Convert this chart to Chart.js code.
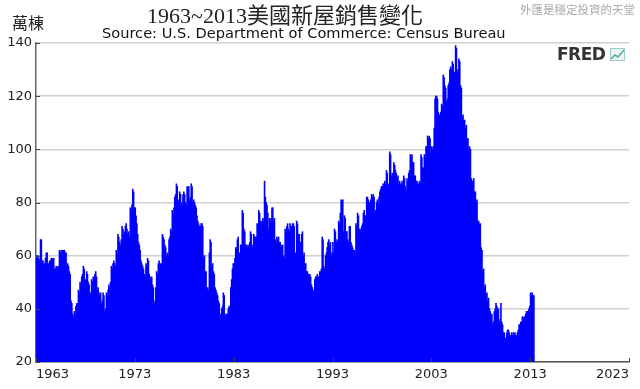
<!DOCTYPE html>
<html lang="zh-Hant">
<head>
  <meta charset="UTF-8">
  <title>1963~2013美國新屋銷售變化</title>
  <script src="https://cdn.jsdelivr.net/npm/chart.js"></script>
  <style>
    body {
      margin: 0;
      background: #fff;
    }
    .wrap {
      position: relative;
      width: 640px;
      height: 389px;
    }
    .txt {
      position: absolute;
      white-space: nowrap;
    }
    .title {
      left: 147px;
      top: 5px;
      font: 22px/22px "Liberation Serif", "Noto Sans CJK TC", serif;
      color: #222;
    }
    .subtitle {
      left: 102px;
      top: 25px;
      font: 14.6px/16px "DejaVu Sans", sans-serif;
      color: #111;
    }
    .unit {
      left: 12px;
      top: 13px;
      font: 16px/18px "Noto Sans CJK TC", sans-serif;
      color: #222;
    }
    .mark {
      left: 520px;
      top: 2px;
      font: 11.5px/14px "Noto Sans CJK TC", sans-serif;
      color: #aaa;
    }
    .fred {
      left: 557px;
      top: 45px;
      font: bold 17px/19px "DejaVu Sans", sans-serif;
      color: #333;
      letter-spacing: -0.5px;
    }
  </style>
</head>
<body>
  <div class="wrap">
    <canvas id="salesChart" width="640" height="389"></canvas>
    <div class="txt title">1963~2013美國新屋銷售變化</div>
    <div class="txt subtitle">Source: U.S. Department of Commerce: Census Bureau</div>
    <div class="txt unit">萬棟</div>
    <div class="txt mark">外匯是穩定投資的天堂</div>
    <div class="txt fred">FRED</div>
  </div>

  <script>
    // 每月新屋銷售 (萬棟, 年率), 1963年1月起
    const startYear = 1963;

    const sales1963 = [
      60, 59, 60, 59, 58, 66, 66, 58, 58, 57, 57, 59,
      61, 61, 57, 57, 58, 58, 59, 58, 59, 59, 55, 55,
      56, 56, 55, 56, 62, 61, 62, 61, 62, 62, 62, 61,
      61, 56, 57, 56, 54, 53, 43, 42, 38, 37, 39, 38,
      41, 42, 42, 47, 46, 50, 49, 52, 53, 56, 55, 50,
      51, 54, 53, 50, 49, 45, 46, 51, 50, 52, 51, 53,
      54, 52, 47, 48, 46, 45, 46, 42, 43, 46, 45, 39,
      40, 46, 45, 47, 49, 48, 50, 56, 55, 57, 58, 57,
      56, 62, 61, 68, 67, 65, 64, 66, 71, 70, 68, 69,
      71, 72, 70, 68, 69, 67, 78, 77, 79, 85, 84, 78
    ];

    const sales1973 = [
      78, 75, 72, 68, 65, 64, 62, 58, 57, 56, 55, 53,
      52, 57, 56, 59, 58, 53, 52, 51, 52, 49, 48, 42,
      43, 48, 54, 53, 57, 58, 56, 57, 57, 68, 67, 66,
      64, 63, 60, 61, 60, 66, 67, 70, 69, 77, 76, 78,
      82, 83, 87, 86, 81, 80, 84, 83, 80, 79, 83, 84,
      83, 80, 79, 86, 85, 86, 81, 82, 87, 86, 80, 81,
      80, 79, 78, 75, 73, 72, 71, 71, 72, 72, 71, 59,
      60, 54, 54, 47, 48, 47, 61, 66, 65, 56, 57, 54,
      53, 48, 47, 46, 45, 43, 42, 38, 36, 40, 41, 46,
      45, 38, 37, 38, 38, 40, 41, 40, 48, 51, 55, 57
    ];

    const sales1983 = [
      57, 59, 63, 63, 66, 67, 60, 61, 64, 64, 77, 76,
      70, 69, 64, 64, 63, 64, 63, 65, 69, 68, 63, 64,
      68, 67, 67, 67, 72, 71, 77, 76, 73, 72, 73, 74,
      73, 88, 82, 80, 79, 76, 70, 74, 73, 74, 78, 78,
      73, 74, 66, 65, 67, 66, 67, 65, 65, 64, 63, 64,
      60, 59, 70, 69, 71, 72, 70, 69, 72, 71, 71, 72,
      72, 71, 60, 61, 73, 72, 68, 68, 64, 65, 68, 69,
      60, 61, 57, 57, 54, 54, 53, 52, 53, 52, 49, 48,
      46, 47, 51, 52, 52, 53, 52, 52, 54, 54, 55, 67,
      66, 56, 55, 60, 61, 63, 65, 66, 64, 65, 60, 61
    ];

    const sales1993 = [
      65, 61, 70, 69, 65, 66, 65, 73, 72, 76, 81, 80,
      81, 69, 75, 74, 69, 69, 66, 65, 71, 71, 65, 64,
      63, 62, 62, 61, 72, 71, 76, 75, 70, 69, 70, 71,
      72, 76, 77, 75, 75, 82, 82, 81, 80, 80, 81, 83,
      82, 83, 82, 76, 77, 80, 81, 80, 82, 84, 85, 86,
      86, 87, 87, 88, 87, 92, 91, 86, 87, 99, 98, 90,
      91, 90, 95, 94, 92, 91, 89, 90, 87, 88, 87, 87,
      88, 87, 90, 89, 86, 85, 89, 88, 91, 92, 98, 97,
      98, 95, 95, 90, 90, 88, 88, 87, 87, 88, 87, 98,
      97, 93, 93, 98, 97, 101, 101, 105, 104, 105, 104, 99
    ];

    const sales2003 = [
      101, 100, 101, 108, 119, 120, 120, 119, 114, 113, 113, 114,
      117, 116, 128, 127, 124, 123, 118, 119, 124, 125, 130, 131,
      130, 133, 132, 128, 129, 139, 138, 129, 130, 134, 133, 124,
      123, 112, 113, 111, 111, 108, 109, 104, 104, 100, 101, 100,
      89, 88, 88, 89, 84, 84, 80, 81, 73, 73, 72, 72,
      63, 62, 54, 55, 48, 49, 45, 46, 43, 44, 40, 39,
      37, 38, 34, 35, 39, 40, 42, 41, 40, 40, 35, 36,
      42, 35, 34, 31, 31, 29, 29, 31, 32, 32, 31, 30,
      30, 31, 30, 31, 30, 31, 30, 30, 31, 32, 34, 34,
      35, 35, 37, 36, 37, 37, 38, 39, 39, 39, 40, 41,
      46, 45, 46, 45, 45
    ];

    const tickYears = [1963, 1973, 1983, 1993, 2003, 2013, 2023];
    const yTicks = [20, 40, 60, 80, 100, 120, 140];

    const sales = [].concat(sales1963, sales1973, sales1983, sales1993, sales2003);
    // 每根柱子放在該月份的中間
    const points = sales.map((v, i) => ({ x: startYear + (i + 0.5) / 12, y: v }));

    // 軸內側的小刻度和 FRED 圖示
    const extras = {
      id: 'extras',
      afterDraw(chart) {
        const { ctx, chartArea, scales: { x, y } } = chart;
        ctx.save();
        ctx.strokeStyle = '#444';
        ctx.lineWidth = 1;
        tickYears.forEach(v => {
          const px = Math.round(x.getPixelForValue(v)) + 0.5;
          ctx.beginPath();
          ctx.moveTo(px, chartArea.bottom);
          ctx.lineTo(px, chartArea.bottom - 4);
          ctx.stroke();
        });
        yTicks.forEach(v => {
          const py = Math.round(y.getPixelForValue(v)) + 0.5;
          ctx.beginPath();
          ctx.moveTo(chartArea.left, py);
          ctx.lineTo(chartArea.left + 4, py);
          ctx.stroke();
        });
        // little chart icon next to FRED
        ctx.fillStyle = '#eef3f0';
        ctx.fillRect(610, 48, 15, 13);
        ctx.strokeStyle = '#9cc';
        ctx.strokeRect(610.5, 48.5, 14, 12);
        ctx.strokeStyle = '#5a9';
        ctx.lineWidth = 1.5;
        ctx.beginPath();
        ctx.moveTo(611, 59);
        ctx.lineTo(615, 55);
        ctx.lineTo(618, 57);
        ctx.lineTo(624, 50);
        ctx.stroke();
        ctx.restore();
      }
    };

    const salesChart = new Chart(document.getElementById('salesChart'), {
      type: 'bar',
      data: {
        datasets: [{
          data: points,
          backgroundColor: '#0000ff',
          borderWidth: 0,
          barPercentage: 1,
          categoryPercentage: 1,
          inflateAmount: 0.4
        }]
      },
      options: {
        responsive: false,
        animation: false,
        layout: { padding: { top: 43, right: 11, left: 0, bottom: 0 } },
        plugins: {
          legend: { display: false },
          tooltip: { enabled: false }
        },
        scales: {
          x: {
            type: 'linear',
            offset: false,
            min: 1963,
            max: 2023,
            afterBuildTicks: s => { s.ticks = tickYears.map(v => ({ value: v })); },
            afterFit: s => { s.height = 27; },
            ticks: {
              align: 'inner',
              maxRotation: 0,
              autoSkip: false,
              padding: 5,
              color: '#222',
              font: { family: 'DejaVu Sans', size: 13 },
              callback: v => String(v)
            },
            grid: { offset: false, drawOnChartArea: false, drawTicks: false },
            border: { color: '#555', width: 1.5 }
          },
          y: {
            min: 20,
            max: 140,
            afterBuildTicks: s => { s.ticks = yTicks.map(v => ({ value: v })); },
            afterFit: s => { s.width = 36; },
            ticks: {
              padding: 4,
              color: '#222',
              font: { family: 'DejaVu Sans', size: 13 }
            },
            grid: { color: '#d0d0d0', lineWidth: 1.5, drawTicks: false },
            border: { color: '#666', width: 1.5 }
          }
        }
      },
      plugins: [extras]
    });
  </script>
</body>
</html>
